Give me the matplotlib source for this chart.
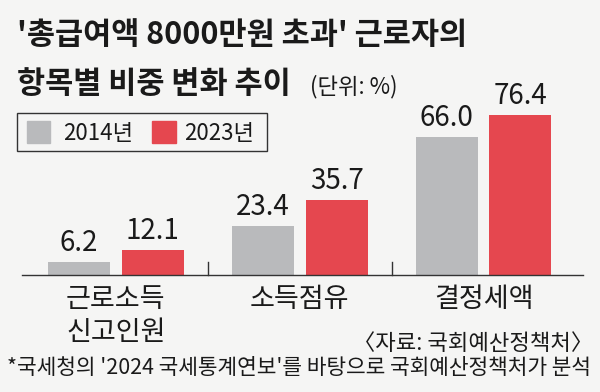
import matplotlib
matplotlib.use("Agg")
import matplotlib.pyplot as plt
from matplotlib.patches import Rectangle

plt.rcParams['font.family'] = ['Noto Sans CJK KR', 'DejaVu Sans']

categories = ["근로소득\n신고인원", "소득점유", "결정세액"]
series_names = ["2014년", "2023년"]
values_2014 = [6.2, 23.4, 66.0]
values_2023 = [12.1, 35.7, 76.4]

title1 = "'총급여액 8000만원 초과' 근로자의"
title2 = "항목별 비중 변화 추이"
unit = "(단위: %)"
source = "〈자료: 국회예산정책처〉"
note = "*국세청의 '2024 국세통계연보'를 바탕으로 국회예산정책처가 분석"

bg = '#f5f5f4'
c_gray = '#b9babc'
c_red = '#e5474f'
txt = '#1a1a1a'

W, H = 600, 392
fig = plt.figure(figsize=(W/100, H/100), dpi=100, facecolor=bg)

def fx(px):
    return px / W
def fy(py):
    return 1 - py / H

base_y = 275
top_y = 100
ax = fig.add_axes([fx(22), fy(base_y), fx(583) - fx(22), (base_y - top_y) / H])
ax.set_facecolor(bg)
ax.patch.set_alpha(0)
ppu = 2.09
ax.set_ylim(0, (base_y - top_y) / ppu)
ax.set_xlim(-0.51, 2.54)

w = 0.337
off = 0.2
xs = list(range(len(categories)))
for i, x in enumerate(xs):
    ax.bar(x - off, values_2014[i], width=w, color=c_gray, zorder=2)
    ax.bar(x + off, values_2023[i], width=w, color=c_red, zorder=2)
    for v, dx in ((values_2014[i], -off), (values_2023[i], off)):
        ax.text(x + dx, v + 2.0, f"{v:.1f}", ha='center', va='bottom',
                fontsize=20, color=txt)

for s in ['top', 'right', 'left']:
    ax.spines[s].set_visible(False)
ax.spines['bottom'].set_color('#333333')
ax.spines['bottom'].set_linewidth(1.0)
ax.set_yticks([])
ax.set_xticks([])
for sep in (0.5, 1.5):
    ax.plot([sep, sep], [0, 6.0], color='#333333', lw=1.0, clip_on=False)

# category labels
for i, cat in enumerate(categories):
    ax.text(xs[i], -5.5, cat, ha='center', va='top', fontsize=19.5,
            color=txt, linespacing=1.27)

# titles
fig.text(fx(17), fy(35), title1, ha='left', va='center', fontsize=22,
         fontweight='bold', color=txt)
fig.text(fx(17), fy(84), title2, ha='left', va='center', fontsize=22,
         fontweight='bold', color=txt)
fig.text(fx(310), fy(87), unit, ha='left', va='center', fontsize=16,
         color=txt)

# legend box
fig.add_artist(Rectangle((fx(17), fy(151)), fx(267) - fx(17), (151 - 113) / H,
                         transform=fig.transFigure, fill=False,
                         edgecolor='#333333', lw=1.0))
fig.add_artist(Rectangle((fx(27), fy(143)), fx(23), 22 / H,
                         transform=fig.transFigure, color=c_gray))
fig.add_artist(Rectangle((fx(152), fy(143)), fx(24), 22 / H,
                         transform=fig.transFigure, color=c_red))
fig.text(fx(63), fy(133), series_names[0], ha='left', va='center', fontsize=16,
         color=txt)
fig.text(fx(184), fy(133), series_names[1], ha='left', va='center', fontsize=16,
         color=txt)

fig.text(fx(593), fy(344), source, ha='right', va='center', fontsize=16,
         color=txt)
fig.text(fx(7), fy(368), note, ha='left', va='center', fontsize=15.4,
         color=txt)

fig.savefig("out.png", dpi=100, facecolor=bg)
